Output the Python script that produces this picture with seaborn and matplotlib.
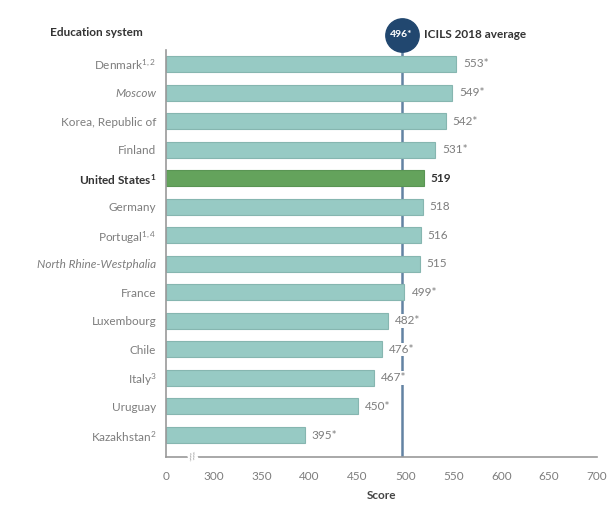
import numpy as np
import pandas as pd
import matplotlib
matplotlib.use("Agg")
import matplotlib.pyplot as plt
import matplotlib.transforms as mtransforms
import seaborn as sns

# ---- data ----
systems = ["Denmark", "Moscow", "Korea, Republic of", "Finland", "United States",
           "Germany", "Portugal", "North Rhine-Westphalia", "France", "Luxembourg",
           "Chile", "Italy", "Uruguay", "Kazakhstan"]
notes = ["1,2", "", "", "", "1", "", "1,4", "", "", "", "", "3", "", "2"]
scores = [553, 549, 542, 531, 519, 518, 516, 515, 499, 482, 476, 467, 450, 395]
significant = ["*", "*", "*", "*", "", "", "", "", "*", "*", "*", "*", "*", "*"]
italic_systems = ["Moscow", "North Rhine-Westphalia"]
highlight = "United States"
average = 496
tick_values = [0, 300, 350, 400, 450, 500, 550, 600, 650, 700]

sns.set_theme(style="white")
plt.rcParams["font.family"] = ["Lato", "DejaVu Sans"]
plt.rcParams["mathtext.default"] = "regular"

TEAL = "#97cac4"
TEAL_EDGE = "#86b6b0"
GREEN = "#64a35c"
LINE = "#6383a3"
NAVY = "#21476f"
GRAY_TXT = "#7d7d7d"
AX_GRAY = "#9a9a9a"

df = pd.DataFrame({"system": systems, "score": scores})
palette = {s: (GREEN if s == highlight else TEAL) for s in systems}

fig = plt.figure(figsize=(6.09, 5.07), dpi=100)
ax = fig.add_axes([166 / 609, 1 - 457 / 507, (597 - 166) / 609, (457 - 50) / 507])

# broken axis: 0..300 compressed to one 50-unit step
def fwd(v):
    v = np.asarray(v, dtype=float)
    return np.where(v < 300, v / 6.0, v - 250.0)

def inv(d):
    d = np.asarray(d, dtype=float)
    return np.where(d < 50, d * 6.0, d + 250.0)

ax.set_xscale("function", functions=(fwd, inv))

sns.barplot(data=df, y="system", x="score", hue="system", palette=palette,
            legend=False, orient="h", width=0.56, ax=ax, saturation=1,
            edgecolor=TEAL_EDGE, linewidth=0.8, zorder=2)
ax.patches[systems.index(highlight)].set_edgecolor("#5a9554")

ax.set_xlim(0, 700)
ax.set_ylim(13.77, -0.49)
ax.set_xticks(tick_values)
ax.set_xticklabels([str(t) for t in tick_values], fontsize=8.5, color=GRAY_TXT)
ax.tick_params(axis="x", direction="out", length=5, width=1, color=AX_GRAY, pad=5)
ax.tick_params(axis="y", length=0, pad=7)
ax.minorticks_off()

labels = []
for s, n in zip(systems, notes):
    labels.append(s + (f"$^{{{n}}}$" if n else ""))
ax.set_yticks(range(len(systems)))
ax.set_yticklabels(labels, fontsize=8.5, color=GRAY_TXT)
for lab, s in zip(ax.get_yticklabels(), systems):
    if s in italic_systems:
        lab.set_style("italic")
    if s == highlight:
        lab.set_fontweight("bold")
        lab.set_color("#333333")

ax.set_xlabel("Score", fontsize=8.5, fontweight="bold", color="#444444", labelpad=6)
ax.set_ylabel("")

for side in ["top", "right"]:
    ax.spines[side].set_visible(False)
for side in ["left", "bottom"]:
    ax.spines[side].set_color(AX_GRAY)
    ax.spines[side].set_linewidth(1.2)

# average line + marker
ax.axvline(average, ymin=0, ymax=1.0, color=LINE, lw=1.8, zorder=0.5)
trans = mtransforms.blended_transform_factory(ax.transData, ax.transAxes)
ax.plot([average, average], [1.0, 1.03], color=LINE, lw=1.8, transform=trans,
        clip_on=False, zorder=3)
ax.plot([average], [1.037], marker="o", markersize=24, color=NAVY, transform=trans,
        clip_on=False, zorder=4)
ax.text(average, 1.037, f"{average}*", transform=trans, ha="center", va="center",
        color="white", fontsize=7.5, fontweight="bold", zorder=5, clip_on=False)
ax.text(519, 1.037, "ICILS 2018 average", transform=trans, ha="left", va="center",
        color="#333333", fontsize=8.5, fontweight="bold", clip_on=False)

# value labels
for i, (s, v, sg) in enumerate(zip(systems, scores, significant)):
    is_hl = s == highlight
    ax.annotate(f"{v}{sg}", xy=(v, i), xytext=(5, 0), textcoords="offset points",
                ha="left", va="center", fontsize=8.5,
                color="#333333" if is_hl else GRAY_TXT,
                fontweight="bold" if is_hl else "normal", zorder=6,
                bbox=dict(boxstyle="square,pad=0.1", fc="white", ec="none"))

# axis break mark
ax.text(168, 0.0, "//", transform=trans, ha="center", va="center", fontsize=7,
        color=AX_GRAY, rotation=20, clip_on=False,
        bbox=dict(boxstyle="square,pad=0.05", fc="white", ec="none"))

fig.text(50 / 609, 1 - 33 / 507, "Education system", ha="left", va="center",
         fontsize=8.5, fontweight="bold", color="#333333")

fig.savefig("out.png", dpi=100)
